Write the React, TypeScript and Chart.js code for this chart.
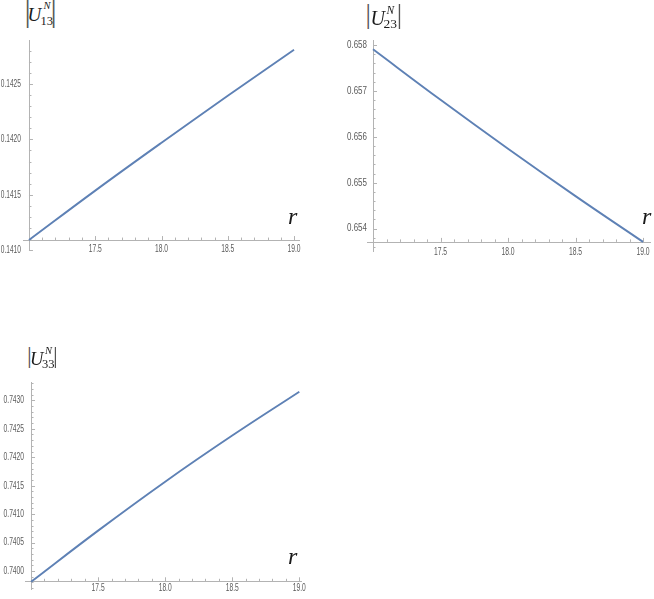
import React, { useEffect, useRef } from "react";
import { Chart, registerables } from "chart.js";

Chart.register(...registerables);

// ---- data ----
const R = [17, 17.5, 18, 18.5, 19];
const U13 = [0.14109, 0.141537, 0.14197, 0.142394, 0.14281];
const U23 = [0.657906, 0.656806, 0.65574, 0.654708, 0.65371];
const U33 = [0.73981, 0.74071, 0.74157, 0.74238, 0.74315];
const X_TICKS = [17.5, 18.0, 18.5, 19.0];
const Y13_TICKS = [0.141, 0.1415, 0.142, 0.1425];
const Y23_TICKS = [0.654, 0.655, 0.656, 0.657, 0.658];
const Y33_TICKS = [0.74, 0.7405, 0.741, 0.7415, 0.742, 0.7425, 0.743];

const LINE_COLOR = "#5E81B5";
const AXIS_COLOR = "#b3b3b3";
const LABEL_COLOR = "#5a5a5a";
const LABEL_SIZE = 10.5;
const LABEL_FONT = `${LABEL_SIZE}px 'Liberation Sans', Arial, sans-serif`;
const SERIF = "'Liberation Serif', 'Times New Roman', serif";

type PanelCfg = {
  left: number; top: number; width: number; height: number;
  padTop: number; padRight: number; yWidth: number; xHeight: number;
  xMin: number; xMax: number; yMin: number; yMax: number;
  xOrigin: number; yOrigin: number;
  ys: number[]; yTicks: number[]; yStep: number; decimals: number;
  yGap: number; xOff: number; ySK: number; xSK: number;
};

const axesPlugin = {
  id: "mmaAxes",
  beforeDatasetsDraw(chart: any, _args: any, opts: any) {
    const { ctx, chartArea } = chart;
    const xs = chart.scales.x;
    const ys = chart.scales.y;
    const ox = xs.getPixelForValue(opts.xOrigin);
    const oy = ys.getPixelForValue(opts.yOrigin);
    ctx.save();
    ctx.strokeStyle = AXIS_COLOR;
    ctx.lineWidth = 1;
    ctx.beginPath();
    ctx.moveTo(chartArea.left, Math.round(oy) + 0.5);
    ctx.lineTo(chartArea.right, Math.round(oy) + 0.5);
    ctx.moveTo(Math.round(ox) + 0.5, chartArea.top);
    ctx.lineTo(Math.round(ox) + 0.5, chartArea.bottom);
    for (let i = 1; ; i++) {
      const v = opts.xOrigin + i * 0.1;
      if (v > opts.xMax + 1e-9) break;
      const px = Math.round(xs.getPixelForValue(v)) + 0.5;
      const len = i % 5 === 0 ? 4 : 2.5;
      ctx.moveTo(px, oy);
      ctx.lineTo(px, oy - len);
    }
    const step = opts.yStep / 5;
    const first = opts.yTicks[0];
    for (let i = -10; i < 200; i++) {
      const v = first + i * step;
      if (v < opts.yMin - 1e-12) continue;
      if (v > opts.yMax + 1e-12) break;
      const py = Math.round(ys.getPixelForValue(v)) + 0.5;
      const len = ((i % 5) + 5) % 5 === 0 ? 4 : 2.5;
      ctx.moveTo(ox, py);
      ctx.lineTo(ox + len, py);
    }
    ctx.stroke();
    ctx.restore();
  },
  afterDraw(chart: any, _args: any, opts: any) {
    const { ctx } = chart;
    const xs = chart.scales.x;
    const ys = chart.scales.y;
    const ox = xs.getPixelForValue(opts.xOrigin);
    const oy = ys.getPixelForValue(opts.yOrigin);
    ctx.save();
    ctx.fillStyle = LABEL_COLOR;
    ctx.font = LABEL_FONT;
    ctx.textBaseline = "middle";
    ctx.textAlign = "right";
    const ky = opts.ySK / LABEL_SIZE;
    for (const v of opts.yTicks) {
      const py = ys.getPixelForValue(v);
      ctx.save();
      ctx.translate(ox - opts.yGap, py);
      ctx.scale(ky, 1);
      ctx.fillText(Number(v).toFixed(opts.decimals), 0, 0);
      ctx.restore();
    }
    ctx.textAlign = "center";
    const kx = opts.xSK / LABEL_SIZE;
    for (const v of X_TICKS) {
      const px = xs.getPixelForValue(v);
      ctx.save();
      ctx.translate(px, oy + opts.xOff);
      ctx.scale(kx, 1);
      ctx.fillText(Number(v).toFixed(1), 0, 0);
      ctx.restore();
    }
    ctx.restore();
  },
};

function Panel({ cfg }: { cfg: PanelCfg }) {
  const ref = useRef<HTMLCanvasElement>(null);
  useEffect(() => {
    if (!ref.current) return;
    const chart = new Chart(ref.current, {
      type: "line",
      data: {
        datasets: [
          {
            data: R.map((r, i) => ({ x: r, y: cfg.ys[i] })),
            borderColor: LINE_COLOR,
            borderWidth: 1.9,
            pointRadius: 0,
            tension: 0.4,
            fill: false,
            clip: false as any,
          },
        ],
      },
      options: {
        animation: false,
        responsive: false,
        layout: { padding: { top: cfg.padTop, right: cfg.padRight, left: 0, bottom: 0 } },
        plugins: {
          legend: { display: false },
          tooltip: { enabled: false },
          mmaAxes: {
            xOrigin: cfg.xOrigin, yOrigin: cfg.yOrigin, xMax: cfg.xMax, yMin: cfg.yMin, yMax: cfg.yMax,
            yTicks: cfg.yTicks, yStep: cfg.yStep, decimals: cfg.decimals, yGap: cfg.yGap, xOff: cfg.xOff,
            ySK: cfg.ySK, xSK: cfg.xSK,
          },
        } as any,
        scales: {
          x: {
            type: "linear",
            min: cfg.xMin,
            max: cfg.xMax,
            grid: { display: false },
            border: { display: false },
            ticks: { display: false },
            afterFit: (s: any) => {
              s.height = cfg.xHeight;
            },
          },
          y: {
            type: "linear",
            min: cfg.yMin,
            max: cfg.yMax,
            grid: { display: false },
            border: { display: false },
            ticks: { display: false },
            afterFit: (s: any) => {
              s.width = cfg.yWidth;
            },
          },
        },
      },
      plugins: [axesPlugin],
    } as any);
    return () => chart.destroy();
  }, [cfg]);
  return (
    <canvas
      ref={ref}
      width={cfg.width}
      height={cfg.height}
      style={{ position: "absolute", left: cfg.left, top: cfg.top, width: cfg.width, height: cfg.height }}
    />
  );
}

type TitleCfg = {
  bx1: number; bx2: number; barTop: number; barBottom: number;
  uLeft: number; uBase: number; uSize: number;
  nLeft: number; nBase: number; nSize: number;
  sLeft: number; sBase: number; sSize: number; sub: string;
};

const topFor = (base: number, size: number) => base - 0.8375 * size;

function Bar({ cx, top, bottom }: { cx: number; top: number; bottom: number }) {
  const f = (bottom - top) / 0.9;
  const base = top + 0.68 * f;
  return (
    <span
      style={{
        position: "absolute",
        left: cx - 0.1 * f,
        top: topFor(base, f),
        fontFamily: SERIF,
        fontSize: f,
        lineHeight: 1,
        color: "#555555",
      }}
    >
      |
    </span>
  );
}

function Title({ t }: { t: TitleCfg }) {
  const common: React.CSSProperties = { position: "absolute", fontFamily: SERIF, lineHeight: 1, color: "#1a1a1a", whiteSpace: "nowrap" };
  return (
    <>
      <Bar cx={t.bx1} top={t.barTop} bottom={t.barBottom} />
      <span style={{ ...common, left: t.uLeft, top: topFor(t.uBase, t.uSize), fontSize: t.uSize, fontStyle: "italic" }}>U</span>
      <span style={{ ...common, left: t.nLeft, top: topFor(t.nBase, t.nSize), fontSize: t.nSize, fontStyle: "italic" }}>N</span>
      <span style={{ ...common, left: t.sLeft, top: topFor(t.sBase, t.sSize), fontSize: t.sSize }}>{t.sub}</span>
      <Bar cx={t.bx2} top={t.barTop} bottom={t.barBottom} />
    </>
  );
}

function RLabel({ cx, cy }: { cx: number; cy: number }) {
  return (
    <div
      style={{
        position: "absolute",
        left: cx - 5,
        top: cy - 14.6,
        fontFamily: SERIF,
        fontStyle: "italic",
        fontSize: 24,
        lineHeight: 1,
        color: "#1a1a1a",
      }}
    >
      r
    </div>
  );
}

const P1: PanelCfg = {
  left: 0, top: 30, width: 320, height: 240, padTop: 10, padRight: 20, yWidth: 23, xHeight: 20,
  xMin: 16.955, xMax: 19.045, yMin: 0.141, yMax: 0.142899, xOrigin: 17, yOrigin: 0.14109,
  ys: U13, yTicks: Y13_TICKS, yStep: 0.0005, decimals: 4, yGap: 8, xOff: 9, ySK: 6.6, xSK: 6.7,
};
const P2: PanelCfg = {
  left: 330, top: 30, width: 324, height: 240, padTop: 10, padRight: 3, yWidth: 37, xHeight: 18,
  xMin: 16.9555, xMax: 19.059, yMin: 0.65349, yMax: 0.65811, xOrigin: 17, yOrigin: 0.65371,
  ys: U23, yTicks: Y23_TICKS, yStep: 0.001, decimals: 3, yGap: 6, xOff: 10, ySK: 8.0, xSK: 6.8,
};
const P3: PanelCfg = {
  left: 0, top: 370, width: 320, height: 229, padTop: 12, padRight: 18, yWidth: 25, xHeight: 9,
  xMin: 16.955, xMax: 19.02, yMin: 0.739667, yMax: 0.743321, xOrigin: 17, yOrigin: 0.73982,
  ys: U33, yTicks: Y33_TICKS, yStep: 0.0005, decimals: 4, yGap: 7, xOff: 7, ySK: 6.7, xSK: 6.7,
};

const T1: TitleCfg = {
  bx1: 27.7, bx2: 53.5, barTop: 0, barBottom: 28,
  uLeft: 27.5, uBase: 21, uSize: 19, nLeft: 43.5, nBase: 9.5, nSize: 10.5, sLeft: 40.5, sBase: 25, sSize: 12.5, sub: "13",
};
const T2: TitleCfg = {
  bx1: 368.3, bx2: 399.5, barTop: 5, barBottom: 29.3,
  uLeft: 370.5, uBase: 25, uSize: 20, nLeft: 386.5, nBase: 15, nSize: 11.5, sLeft: 383.5, sBase: 28.5, sSize: 13.5, sub: "23",
};
const T3: TitleCfg = {
  bx1: 29.3, bx2: 55.5, barTop: 346.7, barBottom: 368.3,
  uLeft: 30, uBase: 365, uSize: 18.5, nLeft: 45, nBase: 354.5, nSize: 10.5, sLeft: 42, sBase: 368, sSize: 12.5, sub: "33",
};

export default function App() {
  return (
    <div style={{ position: "absolute", left: 0, top: 0, width: 654, height: 599, overflow: "hidden", background: "#fff" }}>
      <Panel cfg={P1} />
      <Panel cfg={P2} />
      <Panel cfg={P3} />
      <Title t={T1} />
      <Title t={T2} />
      <Title t={T3} />
      <RLabel cx={293} cy={219} />
      <RLabel cx={647} cy={219} />
      <RLabel cx={293} cy={559} />
    </div>
  );
}
